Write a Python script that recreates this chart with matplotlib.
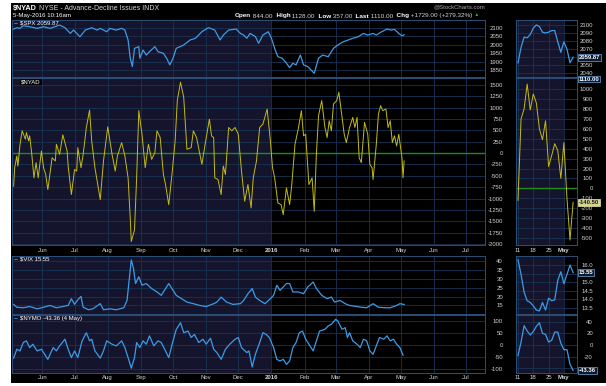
import numpy as np
import matplotlib
matplotlib.use('Agg')
import matplotlib.pyplot as plt
import matplotlib.transforms as mtrans
from matplotlib.patches import Rectangle

plt.rcParams['font.family'] = ['Liberation Sans', 'DejaVu Sans']

# ---- data (x = days since 2015-06-01) ----
spx_day = [-27, -24, -21, -18, -12, -5, 1, 7, 16, 21, 26, 29, 35, 40, 46, 51, 54, 60, 63, 69,
           74, 77, 80, 82, 84, 86, 90, 91, 94, 97, 100, 105, 108, 113, 116, 119, 122, 125, 132, 138,
           143, 149, 155, 157, 161, 166, 169, 174, 181, 185, 188, 191, 194, 199, 202, 206, 211, 214, 217, 220,
           224, 227, 231, 234, 237, 241, 244, 248, 254, 258, 262, 267, 272, 276, 281, 286, 290, 295, 300, 304,
           309, 312, 317, 322, 326, 329, 333, 336, 338]
spx_val = [2094, 2102, 2098, 2114, 2108, 2098, 2108, 2098, 2118, 2102, 2068, 2088, 2048, 2088, 2102, 2088, 2098, 2078, 2098, 2088,
           2098, 2088, 2029, 1920, 1870, 1979, 1989, 1920, 1969, 1939, 1959, 1989, 1959, 1949, 1920, 1880, 1920, 1979, 1999, 2029,
           2039, 2078, 2102, 2098, 2088, 2029, 2058, 2088, 2094, 2068, 2058, 2039, 2068, 2049, 2009, 2058, 2078, 2039, 1979, 1929,
           1920, 1899, 1864, 1890, 1880, 1939, 1880, 1870, 1830, 1920, 1939, 1929, 1979, 1999, 2018, 2029, 2039, 2048, 2068, 2058,
           2068, 2058, 2078, 2094, 2088, 2092, 2068, 2054, 2060]

nyad_day = [-27, -26, -24, -23, -21, -19, -16, -15, -13, -12, -10, -8, -6, -4, -1, 1, 3, 5, 9, 12,
            13, 16, 19, 23, 24, 27, 30, 32, 33, 36, 38, 41, 44, 46, 49, 54, 57, 61, 65, 68,
            70, 74, 77, 80, 82, 83, 86, 88, 90, 93, 96, 99, 102, 105, 107, 110, 113, 115, 118, 121,
            124, 126, 129, 132, 135, 139, 141, 144, 149, 152, 156, 158, 160, 161, 164, 167, 169, 171, 174, 177,
            180, 183, 186, 189, 192, 195, 197, 200, 203, 206, 210, 213, 215, 217, 220, 223, 225, 228, 231, 233,
            236, 239, 242, 244, 246, 249, 252, 254, 256, 258, 261, 264, 266, 268, 270, 272, 275, 277, 280, 282,
            284, 287, 290, 292, 294, 296, 298, 301, 304, 306, 308, 309, 312, 314, 316, 318, 321, 323, 325, 327,
            329, 331, 333, 336, 337, 338]
nyad_val = [-727, -321, -63, -284, 195, 492, 306, 454, 270, 381, -27, -543, -210, -543, 49, -321, -470, -802, -100, -173,
            195, -27, 403, 49, -284, -912, -359, -395, 122, -321, -27, 565, 948, 270, -321, -1023, -173, 580, -27, -395,
            -63, 232, -63, -543, -1429, -1945, -1688, -543, 935, 417, -321, 195, -137, 11, 492, 343, -470, -691, -1134, -470,
            270, 1156, 1562, 1229, 84, 122, 492, 343, -248, 195, 749, 381, 343, -543, -580, -912, -284, -470, 565, 492,
            565, 417, -395, -1059, -691, -1207, -543, -173, 565, 638, 970, 270, -321, -543, -1096, -1134, -1355, -764, -1134, -691,
            195, 527, 935, 381, 417, -691, -543, -1280, -27, 824, 1156, 565, 343, 713, 492, 1081, 1156, 1340, 786, 417,
            232, 565, 786, 565, 786, -100, -210, 676, 417, -248, -321, -580, 195, 860, 1045, 935, 970, 565, 713, 232,
            381, 159, 417, -100, -543, -173]

vix_day = [-27, -24, -18, -12, -5, 1, 7, 13, 19, 24, 27, 30, 33, 36, 38, 43, 47, 54, 57, 63,
           69, 76, 79, 81, 83, 85, 87, 90, 93, 97, 102, 107, 111, 114, 118, 121, 125, 130, 135, 141,
           147, 153, 160, 163, 167, 172, 178, 185, 188, 192, 196, 199, 203, 208, 213, 216, 219, 222, 225, 228,
           231, 234, 239, 244, 248, 253, 256, 261, 266, 270, 273, 278, 283, 287, 294, 298, 303, 309, 314, 320,
           325, 331, 334, 338]
vix_val = [15.6, 14.0, 13.7, 14.4, 13.1, 14.0, 15.0, 13.7, 14.4, 15.0, 18.8, 15.6, 18.2, 20.1, 14.0, 12.6, 13.1, 16.0, 12.6, 13.1,
           12.6, 13.7, 17.8, 29.2, 40.6, 35.9, 27.3, 31.1, 26.4, 27.3, 24.5, 22.6, 20.7, 23.5, 27.3, 24.5, 20.7, 18.8, 16.9, 16.0,
           15.0, 14.4, 16.0, 16.9, 19.7, 16.9, 15.6, 16.0, 17.8, 21.6, 24.5, 19.7, 17.8, 16.0, 18.8, 20.7, 26.4, 23.5, 25.4, 27.3,
           27.3, 22.6, 22.6, 21.6, 25.4, 28.2, 24.5, 20.7, 18.8, 19.7, 16.9, 17.8, 16.0, 15.0, 14.4, 14.0, 13.7, 16.0, 14.0, 13.7,
           13.7, 15.0, 16.0, 15.55]

nymo_day = [-27, -24, -21, -18, -15, -12, -9, -5, -1, 2, 5, 10, 13, 16, 21, 24, 27, 30, 33, 37,
            41, 44, 46, 49, 54, 57, 60, 65, 69, 74, 77, 80, 83, 86, 88, 91, 94, 97, 100, 104,
            108, 111, 115, 118, 122, 125, 129, 132, 136, 139, 142, 146, 150, 153, 157, 160, 163, 167, 171, 175,
            180, 183, 186, 191, 193, 196, 199, 203, 206, 209, 212, 216, 219, 222, 225, 228, 231, 234, 237, 240,
            243, 246, 249, 253, 256, 259, 264, 267, 270, 274, 276, 280, 283, 285, 287, 290, 294, 297, 300, 303,
            306, 309, 312, 315, 319, 322, 325, 328, 331, 334, 337]
nymo_val = [-55, -18, -25, 10, 17, -11, 3, -25, -18, -39, -60, -11, -25, -4, 24, -18, -53, -25, -53, 17,
            51, 17, 24, -25, -55, -25, 17, 3, -4, 17, -11, -53, -97, -53, 10, -11, 17, 3, 38, -4,
            17, 10, -25, -53, 17, 65, 93, 51, 58, 31, 44, 10, 24, 3, 28, -18, -32, -60, -18, 3,
            24, 31, -11, -32, -25, -92, -39, 10, 51, 44, 31, -11, -60, -67, -60, -81, -67, -11, 10, 51,
            58, 24, 3, -25, 17, 58, 65, 79, 86, 107, 100, 65, 72, 31, 51, 17, 3, -11, 24, 17,
            -25, -39, -4, 31, 24, 38, 17, 24, 3, -11, -43]

# mini charts: trading days 11 Apr .. 5 May 2016
mini_spx = [2053, 2072, 2085, 2084, 2088, 2096, 2100, 2098, 2091, 2090, 2091, 2093, 2093, 2079, 2066, 2079, 2070, 2053, 2060]
mini_nyad = [-120, 700, 800, 1050, 790, 950, 860, 600, 490, 680, 220, 330, 450, 380, 100, 460, -100, -520, -140]
mini_vix = [16.3, 15.45, 14.4, 13.9, 13.8, 13.6, 13.35, 13.3, 13.8, 13.35, 14.05, 13.9, 13.95, 15.1, 15.6, 14.9, 15.45, 16.0, 15.55]
mini_nymo = [-18, 5, 33, 24, 17, 23, 32, 38, 20, 18, 5, 8, 22, 22, 3, -8, -8, -33, -43.36]

month_pos = [0, 30, 61, 92, 122, 153, 183, 214, 245, 274, 305, 335, 366, 396]
month_lab = ['Jun', 'Jul', 'Aug', 'Sep', 'Oct', 'Nov', 'Dec', '2016', 'Feb', 'Mar', 'Apr', 'May', 'Jun', 'Jul']
mini_pos = [0, 5, 10, 15]
mini_lab = ['11', '18', '25', 'May']

spx_ticks = [1850, 1900, 1950, 2000, 2050, 2100]
nyad_ticks = [-2000, -1750, -1500, -1250, -1000, -750, -500, -250, 0, 250, 500, 750, 1000, 1250, 1500]
vix_ticks = [15, 20, 25, 30, 35, 40]
nymo_ticks = [-100, -50, 0, 50, 100]
mspx_ticks = [2040, 2050, 2060, 2070, 2080, 2090, 2100]
mspx_lab = ['2040', '2050', '', '2070', '2080', '2090', '2100']
mnyad_ticks = list(range(-500, 1001, 100))
mvix_ticks = [13.5, 14.0, 14.5, 15.0, 15.5, 16.0]
mvix_lab = ['13.5', '14.0', '14.5', '15.0', '', '16.0']
mnymo_ticks = [-40, -20, 0, 20, 40]
mnymo_lab = ['', '-20', '0', '20', '40']

# ---- style ----
W, H = 606, 386
NAVY = '#14142c'
GRID = '#1a3354'
EDGE = '#2a4f78'
TXT = '#d4d4d4'
BLUE = '#3d9be6'
YEL = '#c4bc12'
GREEN = '#1f8a1f'

fig = plt.figure(figsize=(W / 100, H / 100), dpi=100)
fig.patch.set_facecolor('white')
fig.patches.append(Rectangle((11 / W, 1 - 383 / H), 595 / W, 380 / H,
                             transform=fig.transFigure, facecolor='black', zorder=-10))


def panel(x0, y0, x1, y1):
    return fig.add_axes([x0 / W, 1 - y1 / H, (x1 - x0) / W, (y1 - y0) / H])


def ftext(x, y, s, **kw):
    kw.setdefault('va', 'center')
    kw.setdefault('color', TXT)
    return fig.text(x / W, 1 - y / H, s, **kw)


def setup(ax, xlim, xticks, shade_to, ylim, yticks, ylabels, pad):
    ax.set_facecolor('black')
    ax.axvspan(xlim[0], shade_to, color=NAVY, lw=0, zorder=0)
    ax.set_xlim(xlim)
    ax.set_ylim(ylim)
    ax.set_xticks(xticks)
    ax.set_yticks(yticks)
    ax.set_yticklabels(ylabels)
    ax.yaxis.tick_right()
    ax.tick_params(length=0, labelsize=4.3, labelcolor=TXT, pad=pad, labelbottom=False)
    for t in ax.get_yticklabels():
        t.set_ha('right')
    ax.set_axisbelow(True)
    ax.grid(True, color=GRID, lw=0.6)
    for s in ax.spines.values():
        s.set_color(EDGE)
        s.set_linewidth(0.7)


def xlabels(ax, labels, bold):
    ax.set_xticklabels(labels)
    ax.tick_params(axis='x', labelbottom=True, pad=2, labelsize=4.3, labelcolor=TXT)
    for t in ax.get_xticklabels():
        if t.get_text() == bold:
            t.set_fontweight('bold')


MX = (-28.5, 413.6)
mX = (-0.65, 19.28)
rows = [(20, 76.5), (77.5, 245), (256, 314), (314.5, 372.5)]

ax_spx = panel(12, rows[0][0], 485, rows[0][1])
ax_nyad = panel(12, rows[1][0], 485, rows[1][1])
ax_vix = panel(12, rows[2][0], 485, rows[2][1])
ax_nymo = panel(12, rows[3][0], 485, rows[3][1])
m_spx = panel(516, rows[0][0], 577, rows[0][1])
m_nyad = panel(516, rows[1][0], 577, rows[1][1])
m_vix = panel(516, rows[2][0], 577, rows[2][1])
m_nymo = panel(516, rows[3][0], 577, rows[3][1])

setup(ax_spx, MX, month_pos, 214, (1811, 2148), spx_ticks, [str(v) for v in spx_ticks], 13)
setup(ax_nyad, MX, month_pos, 214, (-2022, 1665), nyad_ticks, [str(v) for v in nyad_ticks], 13)
setup(ax_vix, MX, month_pos, 214, (10.2, 42.8), vix_ticks, [str(v) for v in vix_ticks], 13)
setup(ax_nymo, MX, month_pos, 214, (-115, 127), nymo_ticks, [str(v) for v in nymo_ticks], 13)
setup(m_spx, mX, mini_pos, 15, (2036.0, 2106.1), mspx_ticks, mspx_lab, 11.5)
setup(m_nyad, mX, mini_pos, 15, (-570, 1116), mnyad_ticks, [str(v) for v in mnyad_ticks], 11.5)
setup(m_vix, mX, mini_pos, 15, (13.12, 16.53), mvix_ticks, mvix_lab, 11.5)
setup(m_nymo, mX, mini_pos, 15, (-47, 52.1), mnymo_ticks, mnymo_lab, 11.5)

xlabels(ax_nyad, month_lab, '2016')
xlabels(ax_nymo, month_lab, '2016')
xlabels(m_nyad, mini_lab, 'May')
xlabels(m_nymo, mini_lab, 'May')

ax_spx.plot(spx_day, spx_val, color=BLUE, lw=0.9)
ax_nyad.axhline(0, color=GREEN, lw=1.0, zorder=1)
ax_nyad.plot(nyad_day, nyad_val, color=YEL, lw=0.7)
ax_vix.plot(vix_day, vix_val, color=BLUE, lw=0.9)
ax_nymo.plot(nymo_day, nymo_val, color=BLUE, lw=0.9)

mx = np.arange(len(mini_spx))
m_spx.plot(mx, mini_spx, color=BLUE, lw=0.9)
m_nyad.axhline(0, color=GREEN, lw=1.0, zorder=1)
m_nyad.plot(mx, mini_nyad, color=YEL, lw=0.7)
m_vix.plot(mx, mini_vix, color=BLUE, lw=0.9)
m_nymo.plot(mx, mini_nymo, color=BLUE, lw=0.9)


def value_box(ax, y, s, fc, ec, tc):
    tr = mtrans.blended_transform_factory(ax.transAxes, ax.transData)
    ax.text(1.03, y, s, transform=tr, ha='left', va='center', fontsize=4.2,
            fontweight='bold', color=tc, clip_on=False, zorder=5,
            bbox=dict(boxstyle='square,pad=0.15', fc=fc, ec=ec, lw=0.5))


value_box(m_spx, 2059.87, '2059.87', '#0b1a2e', '#6aa6dc', 'white')
value_box(m_nyad, 1100, '1110.00', '#0b1a2e', '#6aa6dc', 'white')
value_box(m_nyad, -140.5, '-140.50', '#d6d48e', '#e8e6a8', '#1a1a1a')
value_box(m_vix, 15.55, '15.55', '#0b1a2e', '#6aa6dc', 'white')
value_box(m_nymo, -43.36, '-43.36', '#0b1a2e', '#6aa6dc', 'white')

# ---- panel legends ----
for y, lab in [(23.3, '$SPX 2059.87'), (259.3, '$VIX 15.55'), (318.3, '$NYMO -43.36 (4 May)')]:
    ftext(14, y, '\u2013', color=BLUE, fontsize=5, fontweight='bold')
    ftext(20, y, lab, fontsize=4.3, color='white')
ftext(21, 82, '$NYAD', fontsize=4.3, color='white',
      bbox=dict(boxstyle='square,pad=0.15', fc='black', ec='none'))

# ---- header ----
t = ftext(12.7, 10.2, '$NYAD', fontsize=5.2, fontweight='bold', color='white', va='baseline')
ax_spx.annotate(' NYSE - Advance-Decline Issues INDX', xy=(1, 0), xycoords=t, va='bottom',
                fontsize=5.0, color=TXT, annotation_clip=False)
ftext(12.7, 15.7, '5-May-2016 10:16am', fontsize=4.4, color='white')
ftext(485, 7.3, '@StockCharts.com', fontsize=4.3, color='#a8a8a8', ha='right')

stats = [('Open', 'bold'), (' 844.00', 'normal'), ('  High', 'bold'), (' 1128.00', 'normal'),
         ('  Low', 'bold'), (' 357.00', 'normal'), ('  Last', 'bold'), (' 1110.00', 'normal'),
         ('  Chg', 'bold'), (' +1729.00 (+279.32%)', 'normal')]
prev = ftext(235, 17.5, stats[0][0], fontsize=4.6, fontweight='bold', color='white', va='baseline')
for s, w in stats[1:]:
    prev = ax_spx.annotate(s, xy=(1, 0), xycoords=prev, va='bottom', fontsize=4.6, fontweight=w,
                           color='white' if w == 'bold' else TXT, annotation_clip=False)
ax_spx.annotate(' \u25b2', xy=(1, 0.25), xycoords=prev, va='bottom', fontsize=3.5,
                color='#22b022', annotation_clip=False)

fig.savefig('out.png', dpi=100, facecolor=fig.get_facecolor())
